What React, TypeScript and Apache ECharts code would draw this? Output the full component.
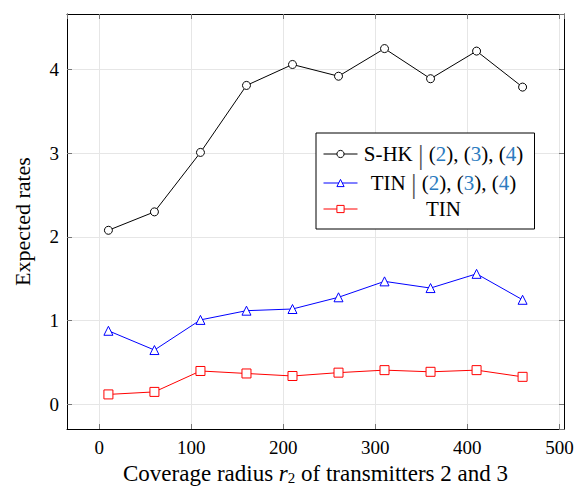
import React, { useEffect, useRef } from "react";
import * as echarts from "echarts";

const radii = [10, 60, 110, 160, 210, 260, 310, 360, 410, 460];
const shkValues = [2.08, 2.3, 3.01, 3.81, 4.06, 3.92, 4.25, 3.89, 4.22, 3.79];
const tinBarValues = [0.88, 0.65, 1.01, 1.12, 1.14, 1.28, 1.47, 1.39, 1.56, 1.25];
const tinValues = [0.12, 0.15, 0.4, 0.37, 0.34, 0.38, 0.41, 0.39, 0.41, 0.33];
const seriesNames = ["S-HK", "TIN-bar", "TIN"];
const seriesColors = ["#000000", "#0000ff", "#ff0000"];

const FONT = "Liberation Serif";
const CITE = "#2b7bbf";

const pair = (xs: number[], ys: number[]) => xs.map((x, i) => [x, ys[i]]);

export default function App() {
  const ref = useRef<HTMLDivElement>(null);
  useEffect(() => {
    if (!ref.current) return;
    const chart = echarts.init(ref.current, undefined, { renderer: "svg" });
    const baseAxis = {
      axisLine: { show: true, onZero: false, lineStyle: { color: "#000", width: 1 } },
      axisTick: { show: true, inside: true, length: 5, lineStyle: { color: "#777", width: 1 } },
    };
    const legendRich = {
      t: { fontFamily: FONT, fontSize: 21, color: "#000", align: "center", lineHeight: 22 },
      bar: { fontFamily: FONT, fontSize: 28, color: "#555", align: "center", lineHeight: 22 },
      b: { fontFamily: FONT, fontSize: 21, color: CITE, align: "center", lineHeight: 22 },
    };
    chart.setOption({
      animation: false,
      backgroundColor: "#fff",
      grid: { left: 67, right: 10, top: 14, bottom: 58, containLabel: false, outerBoundsMode: "none" },
      xAxis: [
        {
          ...baseAxis,
          type: "value",
          min: -35,
          max: 505,
          splitNumber: 5,
          position: "bottom",
          name: "{n|Coverage radius }{i|r}{s|2}{n| of transmitters 2 and 3}",
          nameLocation: "middle",
          nameGap: 28,
          nameTextStyle: {
            rich: {
              n: { fontFamily: FONT, fontSize: 23, color: "#000", lineHeight: 24 },
              i: { fontFamily: FONT, fontSize: 23, fontStyle: "italic", color: "#000", lineHeight: 24 },
              s: { fontFamily: FONT, fontSize: 15, color: "#000", lineHeight: 24, verticalAlign: "bottom", padding: [7, 0, 0, 0] },
            },
          },
          axisLabel: {
            showMinLabel: false,
            showMaxLabel: false,
            margin: 9,
            fontFamily: FONT,
            fontSize: 19,
            color: "#000",
          },
          splitLine: { show: true, lineStyle: { color: "#e6e6e6", width: 1 } },
        },
        {
          ...baseAxis,
          type: "value",
          min: -35,
          max: 505,
          splitNumber: 5,
          position: "top",
          axisLabel: { show: false },
          splitLine: { show: false },
        },
      ],
      yAxis: [
        {
          ...baseAxis,
          type: "value",
          min: -0.293,
          max: 4.663,
          splitNumber: 5,
          position: "left",
          name: "Expected rates",
          nameLocation: "middle",
          nameGap: 34,
          nameTextStyle: { fontFamily: FONT, fontSize: 22, color: "#000" },
          axisLabel: {
            showMinLabel: false,
            showMaxLabel: false,
            margin: 8,
            fontFamily: FONT,
            fontSize: 19,
            color: "#000",
          },
          splitLine: { show: true, lineStyle: { color: "#e6e6e6", width: 1 } },
        },
        {
          ...baseAxis,
          type: "value",
          min: -0.293,
          max: 4.663,
          splitNumber: 5,
          position: "right",
          axisLabel: { show: false },
          splitLine: { show: false },
        },
      ],
      legend: {
        orient: "vertical",
        left: 316,
        top: 133,
        padding: [7, 10, 9, 7],
        itemWidth: 34,
        itemHeight: 9,
        itemGap: 1,
        backgroundColor: "#fff",
        borderColor: "#000",
        borderWidth: 1,
        borderRadius: 0,
        data: seriesNames.map((name, i) => ({
          name,
          itemStyle: { color: "#fff", borderColor: seriesColors[i], borderWidth: 1 },
          lineStyle: { color: seriesColors[i], width: 1 },
        })),
        textStyle: { width: 162, rich: legendRich, fontFamily: FONT, fontSize: 21, lineHeight: 22 },
        formatter: (name: string) => {
          if (name === "S-HK")
            return "{t|S-HK }{bar||}{t| (}{b|2}{t|), (}{b|3}{t|), (}{b|4}{t|)}";
          if (name === "TIN-bar")
            return "{t|TIN }{bar||}{t| (}{b|2}{t|), (}{b|3}{t|), (}{b|4}{t|)}";
          return "{t|TIN}";
        },
      },
      series: [
        {
          name: seriesNames[0],
          type: "line",
          data: pair(radii, shkValues),
          symbol: "circle",
          symbolSize: 8,
          lineStyle: { color: seriesColors[0], width: 1 },
          itemStyle: { color: "#fff", borderColor: seriesColors[0], borderWidth: 1 },
          color: seriesColors[0],
        },
        {
          name: seriesNames[1],
          type: "line",
          data: pair(radii, tinBarValues),
          symbol: "triangle",
          symbolSize: 9,
          lineStyle: { color: seriesColors[1], width: 1 },
          itemStyle: { color: "#fff", borderColor: seriesColors[1], borderWidth: 1 },
          color: seriesColors[1],
        },
        {
          name: seriesNames[2],
          type: "line",
          data: pair(radii, tinValues),
          symbol: "rect",
          symbolSize: 9,
          lineStyle: { color: seriesColors[2], width: 1 },
          itemStyle: { color: "#fff", borderColor: seriesColors[2], borderWidth: 1 },
          color: seriesColors[2],
        },
      ],
    });
    return () => chart.dispose();
  }, []);
  return <div ref={ref} style={{ width: 574, height: 487, position: "absolute", left: 0, top: 0 }} />;
}
